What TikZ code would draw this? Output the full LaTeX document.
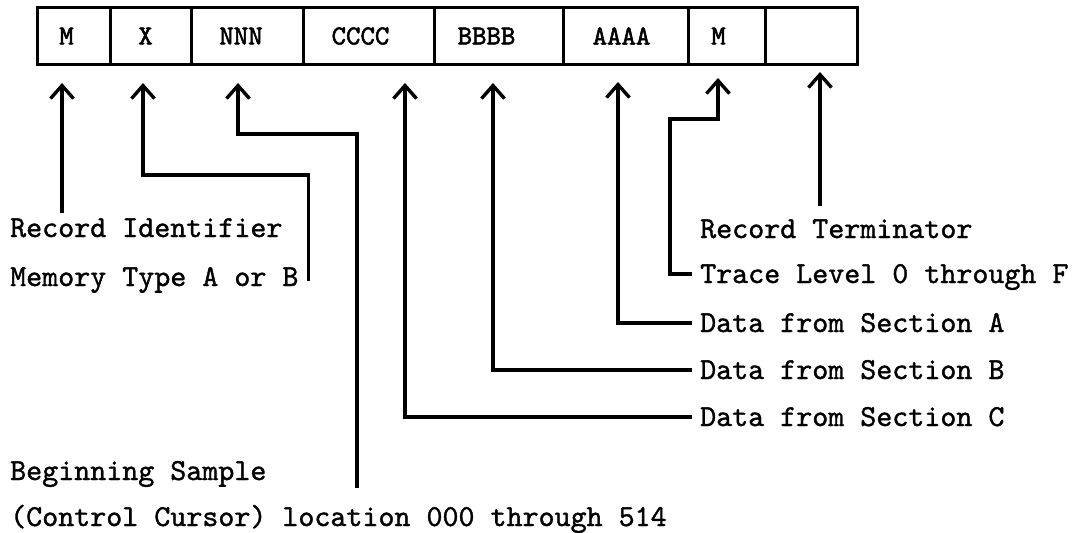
\documentclass[tikz,border=0pt]{standalone}
\usepackage{fontspec}
\newfontfamily\twfont{lmmono10-regular.otf}[FakeBold=1.2]
\newfontfamily\twboxfont{lmmono10-regular.otf}[FakeBold=2]
\newcommand{\lsh}[2]{\hspace*{-#1pt}\hspace*{-#1pt}#2}
\usetikzlibrary{arrows.meta}
\begin{document}
\begin{tikzpicture}[x=1pt,y=-1pt,
  conn/.style={line width=3.4pt, line join=miter},
  arr/.style={conn, -{Straight Barb[length=13pt,width=23pt]}},
  cellbox/.style={draw, line width=3pt, minimum height=57pt, inner sep=0pt,
    font=\twboxfont\fontsize{27.5}{27.5}\selectfont},
  lbl/.style={inner sep=0pt, anchor=west, text height=18pt, text depth=0pt,
    font=\twfont\fontsize{30.5}{30.5}\selectfont}]
\useasboundingbox (0,0) rectangle (1072,533);

% record cells
\node[cellbox, minimum width=73pt]  (c1) at (73.5,36)  {\lsh{7}{M}};
\node[cellbox, minimum width=81pt]  (c2) at (150.5,36) {\lsh{5}{X}};
\node[cellbox, minimum width=112pt] (c3) at (247,36)   {\lsh{6}{NNN}};
\node[cellbox, minimum width=131pt] (c4) at (368.5,36) {\lsh{8}{CCCC}};
\node[cellbox, minimum width=129pt] (c5) at (498.5,36) {\lsh{12}{BBBB}};
\node[cellbox, minimum width=125pt] (c6) at (625.5,36) {\lsh{4}{AAAA}};
\node[cellbox, minimum width=77pt]  (c7) at (726.5,36) {\lsh{8}{M}};
\node[cellbox, minimum width=92pt]  (c8) at (811,36)   {};

% labels
\node[lbl] (rid)   at (10,228)  {Record Identifier};
\node[lbl] (mem)   at (10,277)  {Memory Type A or B};
\node[lbl] (rterm) at (700,229) {Record Terminator};
\node[lbl] (trc)   at (700,274) {Trace Level 0 through F};
\node[lbl] (dA)    at (700,323) {Data from Section A};
\node[lbl] (dB)    at (700,370) {Data from Section B};
\node[lbl] (dC)    at (700,417) {Data from Section C};
\node[lbl] (beg)   at (10,471)  {Beginning Sample};
\node[lbl] (ctl)   at (10,517)  {(Control Cursor) location 000 through 514};

% arrow tips
\coordinate (t1) at (62,83);
\coordinate (t2) at (143,83);
\coordinate (t3) at (238,83);
\coordinate (t4) at (405,83);
\coordinate (t5) at (493,83);
\coordinate (t6) at (618,82);
\coordinate (t7) at (718,78);
\coordinate (t8) at (820,72);
\coordinate (nEnd) at (357,488);

% connectors
\draw[arr] ([yshift=6pt]rid.north -| t1) -- (t1);
\draw[arr] ([xshift=10pt,yshift=-4pt]mem.east) -- ++(0,-106) -| (t2);
\draw[arr] (nEnd) -- ++(0,-354) -| (t3);
\draw[arr] ([xshift=-8pt]dC.west) -| (t4);
\draw[arr] ([xshift=-8pt]dB.west) -| (t5);
\draw[arr] ([xshift=-8pt]dA.west) -| (t6);
\draw[arr] ([xshift=-8pt]trc.west) -- ++(-22,0) -- ++(0,-155) -| (t7);
\draw[arr] ([yshift=14pt]rterm.north -| t8) -- (t8);
\end{tikzpicture}
\end{document}
